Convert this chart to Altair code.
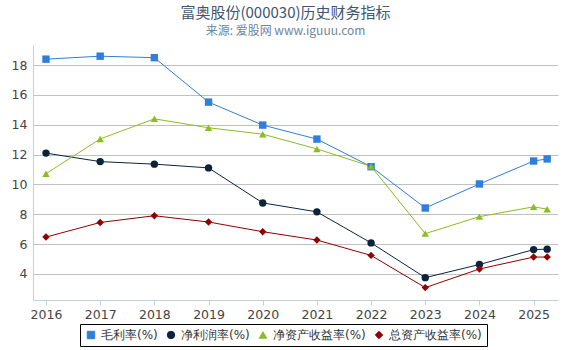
import altair as alt
import pandas as pd

years = [2016, 2017, 2018, 2019, 2020, 2021, 2022, 2023, 2024, 2025, 2025.25]
series_names = ["毛利率(%)", "净利润率(%)", "净资产收益率(%)", "总资产收益率(%)"]
gross_margin = [18.40, 18.60, 18.50, 15.52, 13.98, 13.04, 11.19, 8.42, 10.03, 11.57, 11.71]
net_margin = [12.10, 11.53, 11.36, 11.11, 8.76, 8.16, 6.08, 3.75, 4.63, 5.63, 5.66]
roe = [10.72, 13.05, 14.40, 13.80, 13.37, 12.38, 11.21, 6.70, 7.84, 8.50, 8.34]
roa = [6.47, 7.45, 7.90, 7.48, 6.83, 6.27, 5.24, 3.08, 4.33, 5.13, 5.13]
colors = ["#2f7ed8", "#0d233a", "#8bbc21", "#910000"]
shapes = ["square", "circle", "triangle-up", "diamond"]
x_ticks = [2016, 2017, 2018, 2019, 2020, 2021, 2022, 2023, 2024, 2025]

rows = []
for name, vals in zip(series_names, [gross_margin, net_margin, roe, roa]):
    for i, (yr, v) in enumerate(zip(years, vals)):
        rows.append({"series": name, "year": yr, "value": v, "order": i})
df = pd.DataFrame(rows)

font = "DejaVu Sans"
x = alt.X("year:Q", scale=alt.Scale(domain=[2015.76, 2025.45], nice=False, zero=False),
          axis=alt.Axis(values=x_ticks, format="d", title=None, grid=False,
                        domainColor="#c0d0e0", tickColor="#c0d0e0", tickSize=5,
                        labelColor="#444", labelFontSize=12.5, labelFont=font, labelPadding=3))
y = alt.Y("value:Q", scale=alt.Scale(domain=[2.25, 19.35], nice=False, zero=False),
          axis=alt.Axis(values=[4, 6, 8, 10, 12, 14, 16, 18], title=None, grid=True,
                        gridColor="#c0c0c0", domainColor="#c0d0e0", ticks=False,
                        labelColor="#444", labelFontSize=12.5, labelFont=font, labelPadding=6))
legend = alt.Legend(title=None, orient="none", direction="horizontal",
                    legendX=47, legendY=279, strokeColor="#000",
                    padding=5, labelFontSize=12, labelFont=font,
                    labelColor="#333", symbolSize=55, columnPadding=7,
                    symbolStrokeWidth=1)
color = alt.Color("series:N", scale=alt.Scale(domain=series_names, range=colors), legend=legend)
shape = alt.Shape("series:N", scale=alt.Scale(domain=series_names, range=shapes), legend=legend)

base = alt.Chart(df)
lines = base.mark_line(strokeWidth=1).encode(x=x, y=y, color=color, order="order:Q", detail="series:N")
points = base.mark_point(filled=True, size=55, opacity=1).encode(x=x, y=y, color=color, shape=shape)

chart = alt.layer(lines, points).properties(
    width=525, height=255,
    title=alt.TitleParams(text="富奥股份(000030)历史财务指标", subtitle="来源: 爱股网 www.iguuu.com",
                          anchor="middle", dx=-10, fontSize=15, font="Noto Sans CJK SC",
                          fontWeight="normal", color="#3e576f", subtitleColor="#6d869f",
                          subtitleFontSize=12, subtitleFont="Noto Sans CJK SC", offset=8,
                          subtitlePadding=5),
    autosize=alt.AutoSizeParams(type="none"),
    padding={"left": 33, "top": 45, "right": 12, "bottom": 50},
).configure_view(stroke=None).configure_legend(cornerRadius=0)

chart.save("out.html", embed_options={"renderer": "svg", "actions": False})
